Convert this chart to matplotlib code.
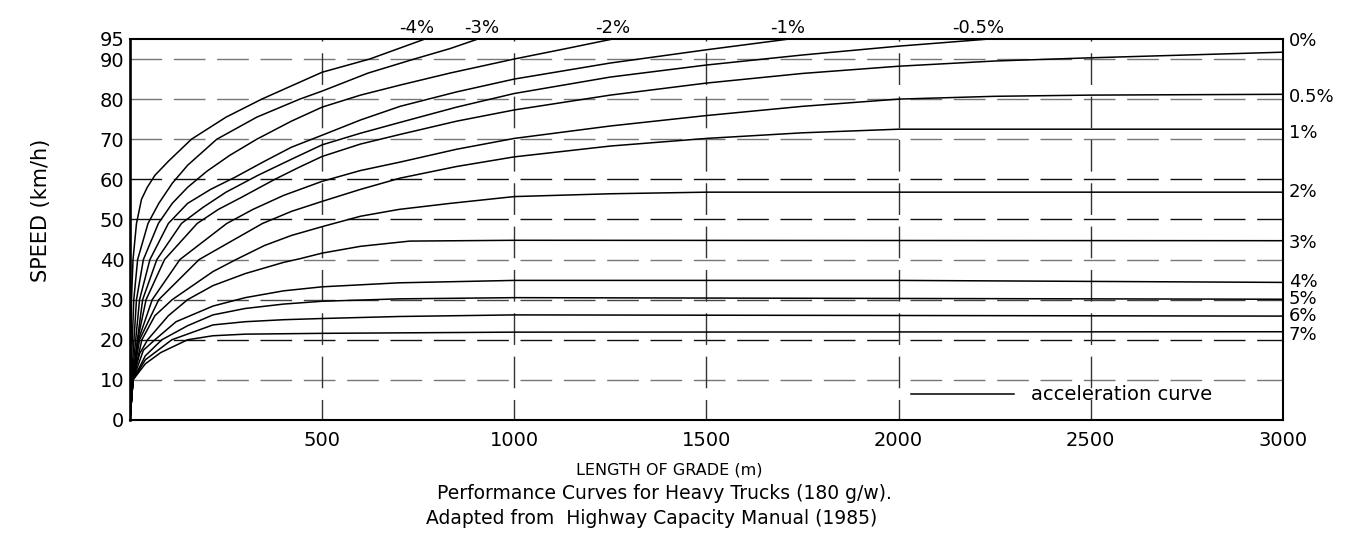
import matplotlib
matplotlib.use('Agg')
import matplotlib.pyplot as plt

plt.rcParams['font.family'] = ['DejaVu Sans']
plt.rcParams['lines.scale_dashes'] = False

# grades and their curves: length of grade (m) vs speed (km/h)
grades = ['-4%', '-3%', '-2%', '-1%', '-0.5%', '0%', '0.5%', '1%', '2%', '3%', '4%', '5%', '6%', '7%']

len_m4 = [0, 2, 4, 8, 17, 30, 45, 65, 100, 160, 250, 343, 500, 624, 768]
spd_m4 = [0, 14, 30, 40, 49, 55, 58, 61, 64.5, 70, 75.5, 80, 86.7, 90, 95]

len_m3 = [0, 3, 10, 20, 47, 75, 110, 150, 226, 330, 442, 500, 620, 740, 833, 906]
spd_m3 = [0, 12, 30, 40, 49, 54, 59, 63.5, 70, 75.5, 80, 82, 86.5, 90, 92.6, 95]

len_m2 = [0, 4, 17, 35, 74, 110, 150, 200, 260, 330, 420, 500, 600, 703, 833, 1000, 1130, 1257]
spd_m2 = [0, 10, 30, 40, 49, 54, 58, 62, 66, 70, 74.5, 78, 81, 83.5, 86.5, 90, 92.5, 95]

len_m1 = [0, 5, 25, 52, 100, 150, 210, 273, 350, 420, 500, 600, 703, 850, 1000, 1250, 1500, 1717]
spd_m1 = [0, 10, 30, 40, 49, 54, 57.5, 60.5, 64.5, 68, 71, 74.8, 78.2, 81.8, 85, 89, 92.3, 95]

len_m05 = [0, 6, 33, 70, 134, 190, 250, 333, 420, 500, 600, 703, 850, 1000, 1250, 1500, 1750, 2000, 2238]
spd_m05 = [0, 10, 30, 40, 49, 53, 56.8, 61, 65, 68.6, 71.5, 74.2, 78, 81.4, 85.5, 88.5, 91, 93.2, 95]

len_0 = [0, 8, 20, 42, 90, 175, 230, 290, 377, 440, 500, 600, 703, 850, 1000, 1250, 1500, 1750, 2000, 2250, 2500, 3000]
spd_0 = [0, 10, 20, 30, 40, 49, 52.5, 55.5, 60, 63, 65.7, 68.8, 71.2, 74.5, 77.3, 81, 84, 86.4, 88.2, 89.5, 90.3, 91.7]

len_p05 = [0, 8, 22, 58, 130, 252, 320, 400, 500, 600, 703, 850, 1000, 1250, 1500, 1750, 2000, 2250, 2500, 3000]
spd_p05 = [0, 10, 20, 30, 40, 49, 52.5, 56, 59.5, 62.2, 64.3, 67.5, 70.2, 73.3, 75.9, 78.2, 80, 80.7, 81, 81.2]

len_p1 = [0, 8, 25, 75, 180, 345, 420, 500, 600, 703, 850, 1000, 1250, 1500, 1750, 2000, 3000]
spd_p1 = [0, 10, 20, 30, 40, 49, 52, 54.5, 57.5, 60.3, 63.2, 65.6, 68.3, 70.2, 71.6, 72.5, 72.5]

len_p2 = [0, 8, 31, 65, 110, 216, 276, 350, 420, 500, 600, 700, 833, 1000, 1250, 1500, 3000]
spd_p2 = [0, 10, 20, 26, 30, 37, 40, 43.5, 46, 48.2, 50.8, 52.5, 54, 55.7, 56.4, 56.8, 56.8]

len_p3 = [0, 8, 25, 46, 100, 150, 216, 300, 400, 442, 500, 600, 728, 1000, 3000]
spd_p3 = [0, 10, 16.5, 20, 26, 30, 33.5, 36.5, 39.3, 40.2, 41.6, 43.3, 44.6, 44.8, 44.7]

len_p4 = [0, 8, 35, 65, 120, 216, 300, 400, 500, 700, 1000, 2000, 3000]
spd_p4 = [0, 10, 17.4, 20, 24.5, 28.4, 30.5, 32.2, 33.2, 34.2, 34.8, 34.8, 34.3]

len_p5 = [0, 8, 40, 83, 150, 216, 300, 400, 500, 700, 1000, 3000]
spd_p5 = [0, 10, 16, 20, 23.5, 26.2, 27.8, 28.9, 29.6, 30.2, 30.5, 30.1]

len_p6 = [0, 8, 40, 109, 216, 300, 400, 500, 700, 1000, 3000]
spd_p6 = [0, 10, 15, 20, 23.7, 24.5, 25, 25.3, 25.8, 26.2, 25.9]

len_p7 = [0, 8, 40, 80, 150, 216, 300, 500, 1000, 3000]
spd_p7 = [0, 10, 14, 16.8, 20, 21, 21.4, 21.6, 21.9, 22]

curves = [(len_m4, spd_m4), (len_m3, spd_m3), (len_m2, spd_m2), (len_m1, spd_m1),
          (len_m05, spd_m05), (len_0, spd_0), (len_p05, spd_p05), (len_p1, spd_p1),
          (len_p2, spd_p2), (len_p3, spd_p3), (len_p4, spd_p4), (len_p5, spd_p5),
          (len_p6, spd_p6), (len_p7, spd_p7)]

x_ticks = [500, 1000, 1500, 2000, 2500, 3000]
y_ticks = [0, 10, 20, 30, 40, 50, 60, 70, 80, 90, 95]

fig = plt.figure(figsize=(13.48, 5.41), dpi=100)
ax = fig.add_axes([0.0964, 0.2237, 0.8553, 0.7043])
ax.set_xlim(0, 3000)
ax.set_ylim(0, 95)

dash = (0, (22.8, 8.4))
# horizontal dashed grid, some drawn darker like the original drawing
grid_col = {10: '#777777', 20: '#111111', 30: '#444444', 40: '#777777', 50: '#111111',
            60: '#111111', 70: '#777777', 80: '#777777', 90: '#777777'}
for lvl in y_ticks[1:-1]:
    ax.axhline(lvl, color=grid_col[lvl], lw=1.0, ls=dash, zorder=1)
for xv in x_ticks[:-1]:
    ax.axvline(xv, color='#333333', lw=1.0, ls=(8, (22.8, 8.4)), zorder=1)

lines = []
for (xs, vs) in curves:
    ln, = ax.plot(xs, vs, color='black', lw=1.1, zorder=3, clip_on=True)
    lines.append(ln)

# labels for downgrades sit above the frame where the curve leaves it
top_dx = [-5.8, 2.9, 0, -1.4, -8.6]
for i in range(5):
    xs, vs = curves[i]
    ax.annotate(grades[i], xy=(xs[-1], 95), xytext=(top_dx[i], 8), textcoords='offset points',
                ha='center', va='center', fontsize=13, annotation_clip=False)

# labels for level and upgrades at the right edge
right_dy = [8.4, -1.7, -2.7, 0, -1.7, 0, 0, 0, -2.4]
for i in range(5, 14):
    xs, vs = curves[i]
    ax.annotate(grades[i], xy=(xs[-1], vs[-1]), xytext=(4.3, right_dy[i - 5]),
                textcoords='offset points', ha='left', va='center', fontsize=13,
                annotation_clip=False)

ax.set_xticks(x_ticks)
ax.set_yticks(y_ticks)
ax.tick_params(length=0, labelsize=14)
ax.tick_params(axis='y', pad=4)
ax.tick_params(axis='x', pad=8)

for side in ['top', 'right', 'bottom']:
    ax.spines[side].set_linewidth(1.5)
ax.spines['left'].set_linewidth(1.9)

ax.legend([lines[0]], ['acceleration curve'], loc='center right',
          bbox_to_anchor=(0.9384, 0.0656), frameon=False, fontsize=14,
          handlelength=5.3, handletextpad=0.87, borderaxespad=0, borderpad=0)

fig.text(0.0304, 0.612, 'SPEED (km/h)', rotation=90, ha='center', va='center', fontsize=15)
fig.text(0.4963, 0.1312, 'LENGTH OF GRADE (m)', ha='center', va='center', fontsize=11.5)
fig.text(0.4926, 0.0872, 'Performance Curves for Heavy Trucks (180 g/w).', ha='center', va='center',
         fontsize=13.5)
fig.text(0.4837, 0.0425, 'Adapted from  Highway Capacity Manual (1985)', ha='center', va='center',
         fontsize=13.5)

fig.savefig('out.png', dpi=100)
